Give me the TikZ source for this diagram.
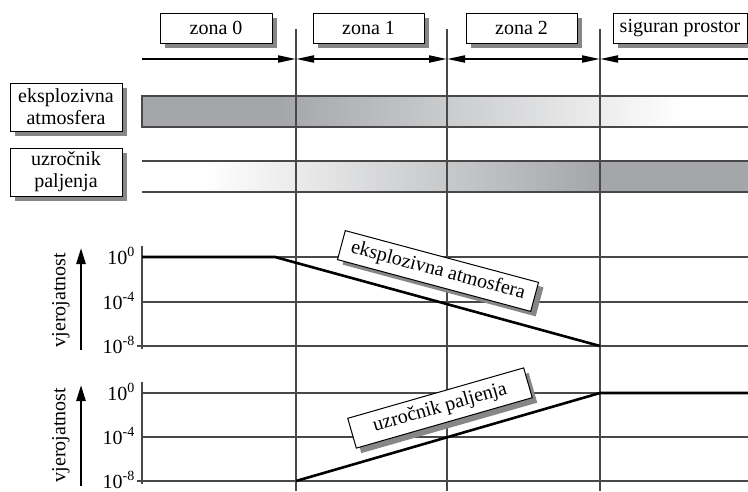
\documentclass[tikz,border=0pt]{standalone}
\usepackage{fontspec}
\setmainfont{Liberation Serif}
\usetikzlibrary{arrows.meta,shadows}
\definecolor{bargray}{RGB}{164,166,169}
\definecolor{gridgray}{RGB}{72,72,72}
\definecolor{shadowgray}{RGB}{135,135,135}

\begin{document}
\begin{tikzpicture}[x=1pt,y=-1pt]
\tikzstyle{every node}+=[inner sep=0pt,font=\fontsize{20}{22}\selectfont]
\tikzstyle{labelbox}=[draw=black,fill=white,line width=1pt,drop shadow={shadow xshift=5pt,shadow yshift=-5pt,fill=shadowgray,opacity=1}]
\tikzstyle{zonebox}=[labelbox,minimum width=112pt,minimum height=30pt]
\tikzstyle{sidebox}=[labelbox,minimum width=112pt,minimum height=48pt,align=center]
\tikzstyle{gridline}=[gridgray,line width=1.3pt]
\tikzstyle{dimline}=[black,line width=2pt]
\tikzstyle{curve}=[black,line width=2.6pt]
\tikzstyle{tip}=[{Triangle[length=18pt,width=7pt]}]
\useasboundingbox (0,0) rectangle (748,491);
% bars
\fill [bargray] (142,96) rectangle (280,127);
\shade [left color=bargray,right color=white] (280,96) rectangle (682,127);
\draw [gridline] (748,96) -- (142,96) -- (142,127) -- (748,127);
\shade [left color=white,right color=bargray] (205,161) rectangle (600,192);
\fill [bargray] (600,161) rectangle (748,192);
\draw [gridline] (142,161) -- (748,161);
\draw [gridline] (142,192) -- (748,192);
% grids
\draw [gridline] (142,257) -- (748,257);
\draw [gridline] (142,302) -- (748,302);
\draw [gridline] (137,346) -- (748,346);
\draw [gridline] (142,246) -- (142,349);
\draw [gridline] (142,393) -- (748,393);
\draw [gridline] (142,437) -- (748,437);
\draw [gridline] (137,481) -- (748,481);
\draw [gridline] (142,382) -- (142,484);
% zone borders
\coordinate (v1t) at (296,29);
\coordinate (v1b) at (296,491);
\coordinate (v2t) at (447,29);
\coordinate (v2b) at (447,491);
\coordinate (v3t) at (600,29);
\coordinate (v3b) at (600,491);
\draw [gridline] (v1t) -- (v1b);
\draw [gridline] (v2t) -- (v2b);
\draw [gridline] (v3t) -- (v3b);
% dimension arrows
\coordinate (d0) at (142,59);
\coordinate (d1) at (296,59);
\coordinate (d2) at (447,59);
\coordinate (d3) at (600,59);
\coordinate (d4) at (748,59);
\draw [dimline,-{Triangle[length=18pt,width=7pt]}] (d0) -- (d1);
\draw [dimline,{Triangle[length=18pt,width=7pt]}-{Triangle[length=18pt,width=7pt]}] (d1) -- (d2);
\draw [dimline,{Triangle[length=18pt,width=7pt]}-{Triangle[length=18pt,width=7pt]}] (d2) -- (d3);
\draw [dimline,{Triangle[length=18pt,width=7pt]}-] (d3) -- (d4);
% zone labels
\node [zonebox] (zona0) at (216,28) {zona 0};
\node [zonebox,minimum width=111pt] (zona1) at (368.5,28) {zona 1};
\node [zonebox,minimum width=111pt] (zona2) at (521.5,28) {zona 2};
\node [zonebox,minimum width=134pt] (sigurno) at (680,28) {siguran prostor};
\node [sidebox] (atmbox) at (66,107) {eksplozivna\\atmosfera};
\node [sidebox] (palbox) at (66,172) {uzro\v{c}nik\\paljenja};
% probability axes
\node [anchor=base east] (ea0) at (135,264) {10\textsuperscript{0}};
\node [anchor=base east] (ea4) at (135,309) {10\textsuperscript{-4}};
\node [anchor=base east] (ea8) at (135,353) {10\textsuperscript{-8}};
\node [anchor=base east] (ua0) at (135,400) {10\textsuperscript{0}};
\node [anchor=base east] (ua4) at (135,444) {10\textsuperscript{-4}};
\node [anchor=base east] (ua8) at (135,488) {10\textsuperscript{-8}};
\node [rotate=90] (evjer) at (61,300) {vjerojatnost};
\node [rotate=90] (uvjer) at (61,435) {vjerojatnost};
\coordinate (ea1) at (81,350);
\coordinate (ea2) at (81,248);
\coordinate (ua1) at (81,486);
\coordinate (ua2) at (81,385);
\draw [line width=2.5pt,-{Triangle[length=16pt,width=9pt]}] (ea1) -- (ea2);
\draw [line width=2.5pt,-{Triangle[length=16pt,width=9pt]}] (ua1) -- (ua2);
% probability curves
\coordinate (ep0) at (142,257);
\coordinate (ep1) at (275,257);
\coordinate (ep2) at (600,346);
\draw [curve] (ep0) -- (ep1) -- (ep2);
\coordinate (up0) at (296,481);
\coordinate (up1) at (600,393);
\coordinate (up2) at (748,393);
\draw [curve] (up0) -- (up1) -- (up2);
\node [labelbox,rotate=-15,minimum width=200pt,minimum height=30pt] (eatm) at (438,271) {eksplozivna atmosfera};
\node [labelbox,rotate=16,minimum width=183pt,minimum height=31pt] (upal) at (440,408) {uzro\v{c}nik paljenja};
\end{tikzpicture}
\end{document}
